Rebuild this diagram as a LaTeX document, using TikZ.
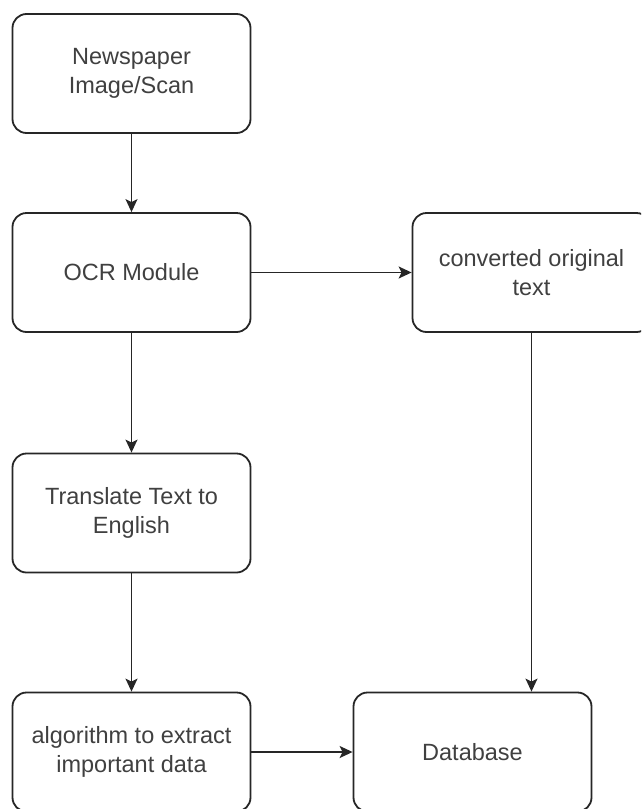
\documentclass[tikz,border=0pt]{standalone}
\usepackage{fontspec}
\setmainfont{Liberation Sans}
\usetikzlibrary{arrows.meta}

\begin{document}
\begin{tikzpicture}[x=1pt, y=-1pt,
    box/.style={draw=black!85, line width=1.8pt, rounded corners=14pt, fill=white,
      minimum width=238pt, minimum height=119pt, inner sep=0pt, align=center,
      text=black!75, font=\fontsize{23.5}{28.4}\selectfont},
    link/.style={draw=black!85, line width=1.6pt, -{Stealth[length=13pt, width=12pt, inset=3pt]}}]

    \useasboundingbox (0,0) rectangle (641,809);
    \clip (0,0) rectangle (641,809);

    % --- left column ---
    \node[box] (scan) at (131.5,73.5) {Newspaper\\Image/Scan};
    \node[box] (ocr) at (131.5,272.5) {OCR Module};
    \node[box] (translate) at (131.5,513) {Translate Text to\\English};
    \node[box] (extract) at (131.5,752) {algorithm to extract\\important data};

    % --- right column ---
    \node[box] (original) at (531.5,272.5) {converted original\\text};
    \node[box] (db) at (472.5,752) {Database};

    % arrows
    \draw[link] (scan) -- (ocr);
    \draw[link] (ocr) -- (original);
    \draw[link] (ocr) -- (translate);
    \draw[link] (translate) -- (extract);
    \draw[link] (extract) -- (db);
    \draw[link] (original.south) -- (original.south |- db.north);

\end{tikzpicture}
\end{document}
